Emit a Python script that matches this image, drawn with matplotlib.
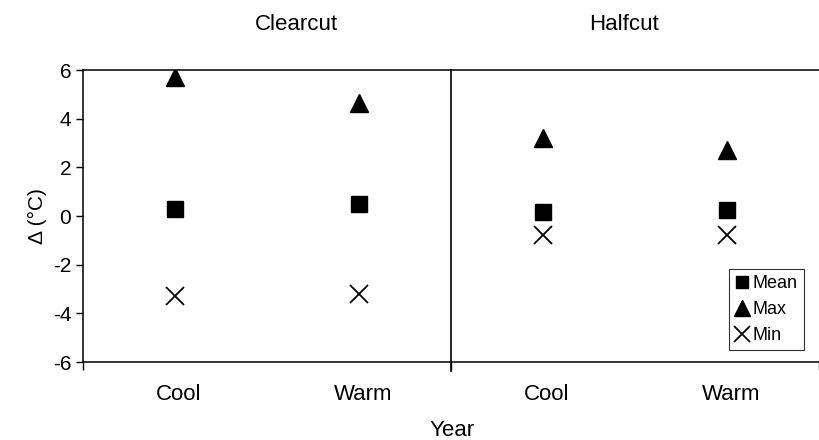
import matplotlib.pyplot as plt
from matplotlib.transforms import blended_transform_factory

plt.rcParams['font.family'] = ['Liberation Sans', 'DejaVu Sans']
plt.rcParams['axes.unicode_minus'] = False

# data
years = ["Cool", "Warm", "Cool", "Warm"]
groups = ["Clearcut", "Halfcut"]
mean_vals = [0.3, 0.5, 0.15, 0.25]
max_vals = [5.7, 4.65, 3.2, 2.7]
min_vals = [-3.3, -3.2, -0.8, -0.8]

x = list(range(1, len(years) + 1))

fig = plt.figure(figsize=(8.19, 4.40), dpi=100)
ax = fig.add_axes([83 / 819, 1 - 362 / 440, 736 / 819, 292 / 440])

ax.plot(x, mean_vals, linestyle="none", marker="s", ms=11, color="black", label="Mean")
ax.plot(x, max_vals, linestyle="none", marker="^", ms=13, color="black", label="Max")
ax.plot(x, min_vals, linestyle="none", marker="x", ms=13, mew=1.3, color="black", label="Min")

# divider between the two groups
ax.axvline(2.5, color="black", lw=1.2, ymin=-0.03, clip_on=False)

ax.set_xlim(0.5, 4.5)
ax.set_ylim(-6, 6)
ax.set_yticks(range(-6, 7, 2))
ax.set_xticks([0.5, 2.5, 4.5])
ax.set_xticklabels([])
ax.tick_params(axis="both", direction="out", length=5, width=1, labelsize=15, colors="black")
ax.tick_params(axis="x", length=6)
ax.spines["right"].set_visible(False)
for s in ["left", "top", "bottom"]:
    ax.spines[s].set_linewidth(1.1)

# category labels under each point
trans = blended_transform_factory(ax.transData, ax.transAxes)
for xi, lab in zip(x, years):
    ax.text(xi + 0.02, -0.11, lab, transform=trans, ha="center", va="center", fontsize=16)

# group titles
ax.text(1.66, 1.157, groups[0], transform=trans, ha="center", va="center", fontsize=16)
ax.text(3.44, 1.157, groups[1], transform=trans, ha="center", va="center", fontsize=16)

fig.text(452 / 819, 1 - 430 / 440, "Year", ha="center", va="center", fontsize=16)
ax.set_ylabel("Δ (°C)", fontsize=15, labelpad=4)

leg = ax.legend(loc="lower right", bbox_to_anchor=(0.98, 0.04), fontsize=13,
                frameon=True, fancybox=False, edgecolor="black", handlelength=0.8,
                handletextpad=0.2, borderpad=0.35, labelspacing=0.5, borderaxespad=0,
                markerscale=0.85)
leg.get_frame().set_linewidth(0.8)

fig.savefig("out.png", dpi=100)
